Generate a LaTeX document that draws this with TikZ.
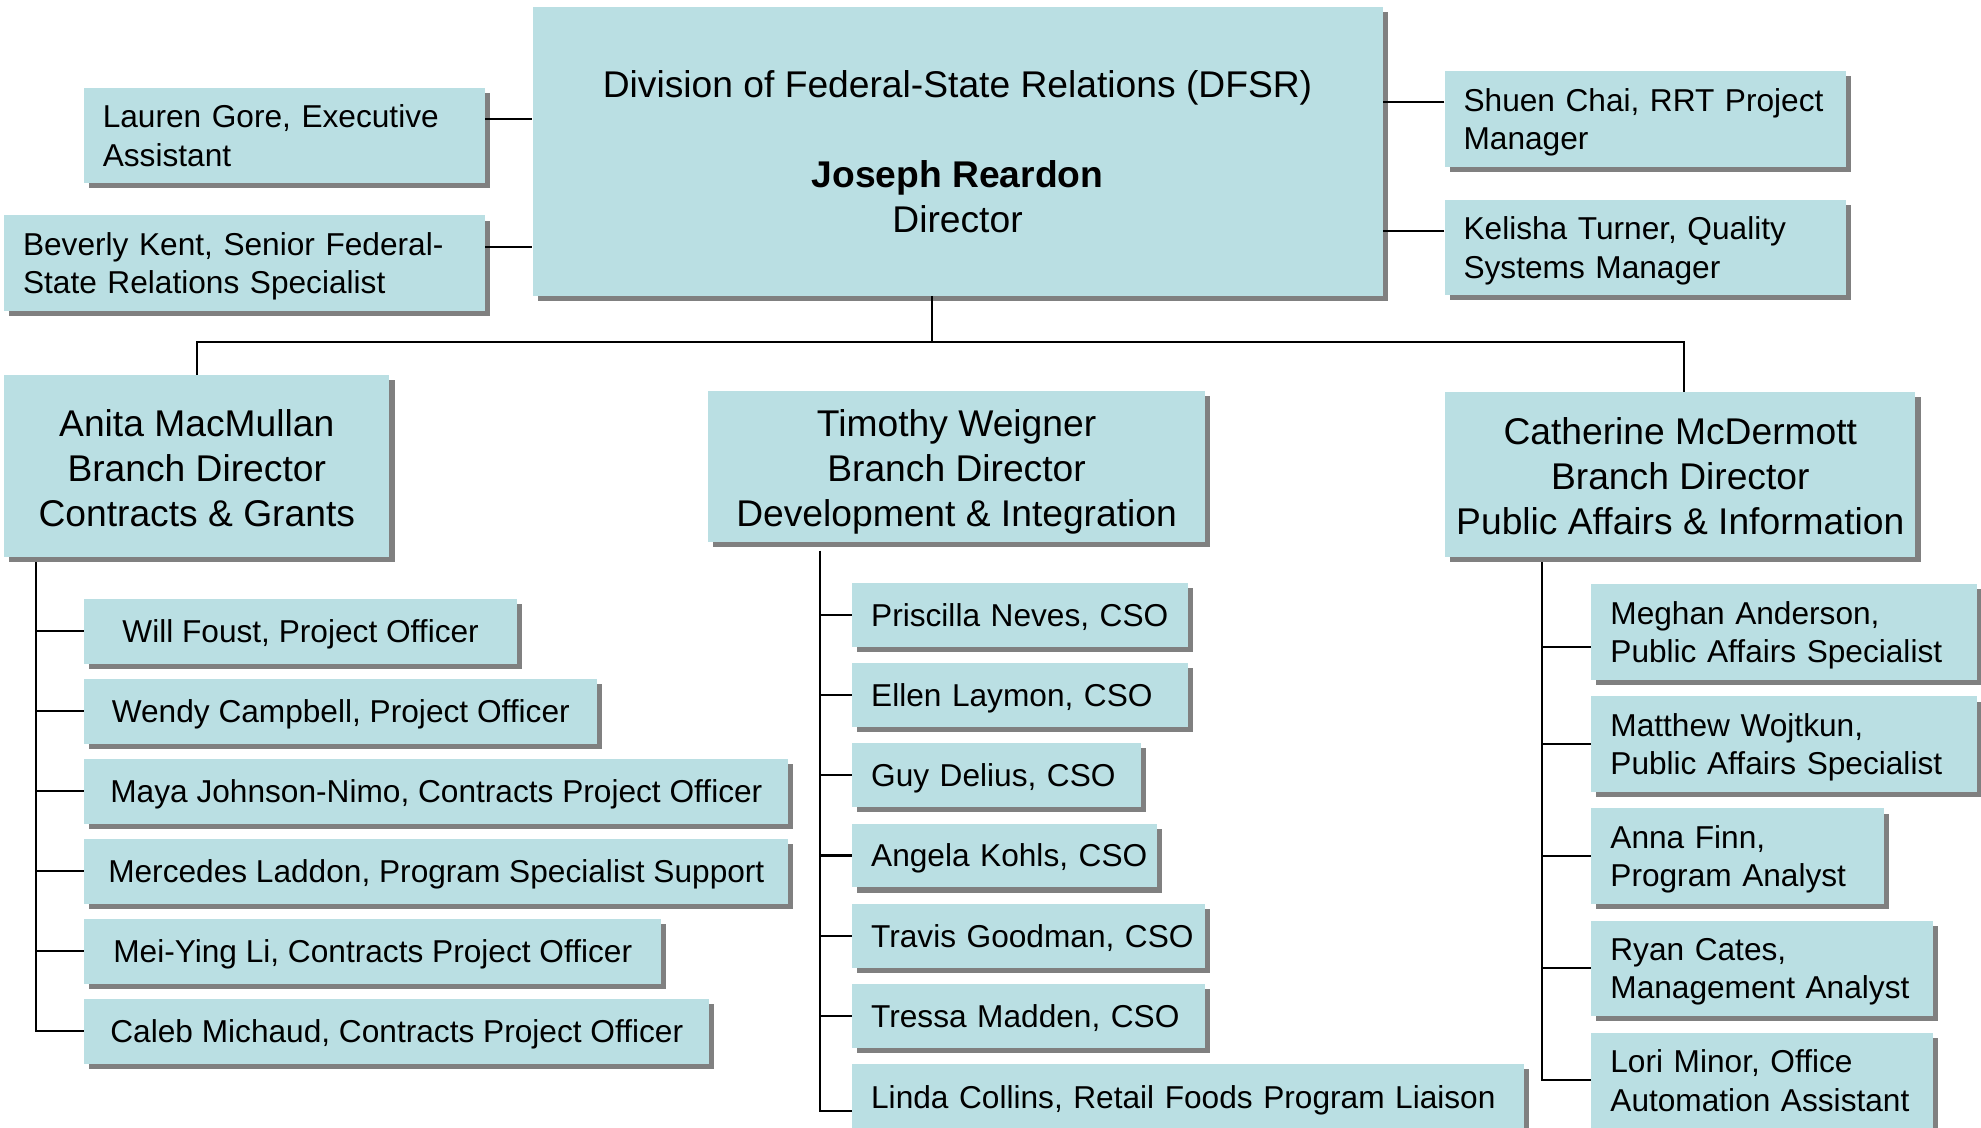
\documentclass[tikz,border=0pt]{standalone}
\usepackage{fontspec}
\setmainfont{Liberation Sans}
\usepackage{xcolor}
\usetikzlibrary{shadows}

\definecolor{unitfill}{RGB}{186,223,227}
\definecolor{unitshadow}{RGB}{128,128,128}

\tikzset{
  unit/.style={fill=unitfill, anchor=north west, inner ysep=0pt,
    general shadow={fill=unitshadow, shadow xshift=4pt, shadow yshift=-4pt}},
  head/.style={unit, font=\fontsize{29.4}{35.5}\selectfont, align=center, inner xsep=0pt},
  branch/.style={head, text height=95pt, text depth=0pt},
  staff/.style={unit, font=\fontsize{25}{30.5}\selectfont, align=left, inner xsep=15pt, text width=#1},
  twoline/.style={minimum height=75.5pt, text height=18pt, text depth=30.5pt},
  oneline/.style={minimum height=50.5pt, text height=21pt, text depth=3pt},
  officer/.style={unit, font=\fontsize{25}{30.5}\selectfont, inner xsep=0pt, minimum width=#1,
    minimum height=51pt, text height=21pt, text depth=3pt},
  link/.style={line width=1.6pt}
}

\begin{document}
\begin{tikzpicture}[x=1pt, y=-1pt]
\useasboundingbox (0,0) rectangle (1565,891);

% division and its staff
\node[head, minimum width=671.5pt, minimum height=228pt] (dfsr) at (420.5,5.5)
  {Division of Federal-State Relations (DFSR)\\[35.5pt]\textbf{Joseph Reardon}\\Director};
\node[staff=287pt, twoline] (gore) at (66,69) {Lauren Gore, Executive\\Assistant};
\node[staff=350pt, twoline] (kent) at (3,170) {Beverly Kent, Senior Federal-\\State Relations Specialist};
\node[staff=287pt, twoline] (chai) at (1141,56) {Shuen Chai, RRT Project\\Manager};
\node[staff=287pt, twoline] (turner) at (1141,157.5) {Kelisha Turner, Quality\\Systems Manager};

% branches
\node[branch, minimum width=304.5pt, minimum height=144pt] (macmullan) at (3,296)
  {Anita MacMullan\\Branch Director\\Contracts \& Grants};
\node[branch, minimum width=393pt, minimum height=119pt] (weigner) at (559,309)
  {Timothy Weigner\\Branch Director\\Development \& Integration};
\node[branch, minimum width=371.5pt, minimum height=130.5pt] (mcdermott) at (1141.5,309.5)
  {Catherine McDermott\\Branch Director\\Public Affairs \& Information};

% contracts & grants
\node[officer=341.5pt] (foust) at (66.5,473) {Will Foust, Project Officer};
\node[officer=405pt] (campbell) at (66.5,536.2) {Wendy Campbell, Project Officer};
\node[officer=556pt] (johnson) at (66.5,599.4) {Maya Johnson-Nimo, Contracts Project Officer};
\node[officer=556pt] (laddon) at (66.5,662.6) {Mercedes Laddon, Program Specialist Support};
\node[officer=455.5pt] (li) at (66.5,725.8) {Mei-Ying Li, Contracts Project Officer};
\node[officer=493.5pt] (michaud) at (66.5,789) {Caleb Michaud, Contracts Project Officer};

% development & integration
\node[staff=235.6pt, oneline] (neves) at (673,460.5) {\mbox{Priscilla Neves, CSO}};
\node[staff=235.6pt, oneline] (laymon) at (673,523.8) {\mbox{Ellen Laymon, CSO}};
\node[staff=198pt, oneline] (delius) at (673,587.1) {\mbox{Guy Delius, CSO}};
\node[staff=211pt, oneline] (kohls) at (673,650.4) {\mbox{Angela Kohls, CSO}};
\node[staff=249pt, oneline] (goodman) at (673,713.7) {\mbox{Travis Goodman, CSO}};
\node[staff=249pt, oneline] (madden) at (673,777) {\mbox{Tressa Madden, CSO}};
\node[staff=501pt, minimum height=74pt, text height=10pt, text depth=14pt] (collins) at (673,840.3)
  {\mbox{Linda Collins, Retail Foods Program Liaison}};

% public affairs & information
\node[staff=275pt, twoline] (anderson) at (1257,461.4) {Meghan Anderson,\\Public Affairs Specialist};
\node[staff=275pt, twoline] (wojtkun) at (1257,550) {Matthew Wojtkun,\\Public Affairs Specialist};
\node[staff=201pt, twoline] (finn) at (1257,638.5) {Anna Finn,\\Program Analyst};
\node[staff=240pt, twoline] (cates) at (1257,727) {Ryan Cates,\\Management Analyst};
\node[staff=240pt, twoline] (minor) at (1257,815.5) {Lori Minor, Office\\Automation Assistant};

% links to the director
\path ([yshift=13pt]gore.east) coordinate (g1);
\path ([yshift=13pt]kent.east) coordinate (k1);
\path ([yshift=13pt]chai.west) coordinate (c1);
\path ([yshift=13pt]turner.west) coordinate (t1);
\draw[link] (g1) -- (g1 -| dfsr.west);
\draw[link] (k1) -- (k1 -| dfsr.west);
\draw[link] (c1) -- (c1 -| dfsr.east);
\draw[link] (t1) -- (t1 -| dfsr.east);

% branch bar
\coordinate (bar) at (736,270.5);
\draw[link] (bar |- dfsr.south) -- (bar);
\draw[link] (macmullan.north) |- (bar) -| ([xshift=3pt]mcdermott.north);

% contracts & grants bus
\coordinate (cgbus) at (28.5,444);
\draw[link] (cgbus) |- (michaud.west);
\draw[link] (cgbus |- foust.west) -- (foust.west);
\draw[link] (cgbus |- campbell.west) -- (campbell.west);
\draw[link] (cgbus |- johnson.west) -- (johnson.west);
\draw[link] (cgbus |- laddon.west) -- (laddon.west);
\draw[link] (cgbus |- li.west) -- (li.west);

% development & integration bus
\coordinate (dibus) at (648,435);
\draw[link] (dibus) |- (collins.west);
\draw[link] (dibus |- neves.west) -- (neves.west);
\draw[link] (dibus |- laymon.west) -- (laymon.west);
\draw[link] (dibus |- delius.west) -- (delius.west);
\draw[link] (dibus |- kohls.west) -- (kohls.west);
\draw[link] (dibus |- goodman.west) -- (goodman.west);
\draw[link] (dibus |- madden.west) -- (madden.west);

% public affairs bus
\coordinate (pabus) at (1218,444);
\path ([yshift=-12pt]anderson.west) coordinate (a1);
\draw[link] (pabus) |- (minor.west);
\draw[link] (pabus |- a1) -- (a1);
\draw[link] (pabus |- wojtkun.west) -- (wojtkun.west);
\draw[link] (pabus |- finn.west) -- (finn.west);
\draw[link] (pabus |- cates.west) -- (cates.west);
\end{tikzpicture}
\end{document}
